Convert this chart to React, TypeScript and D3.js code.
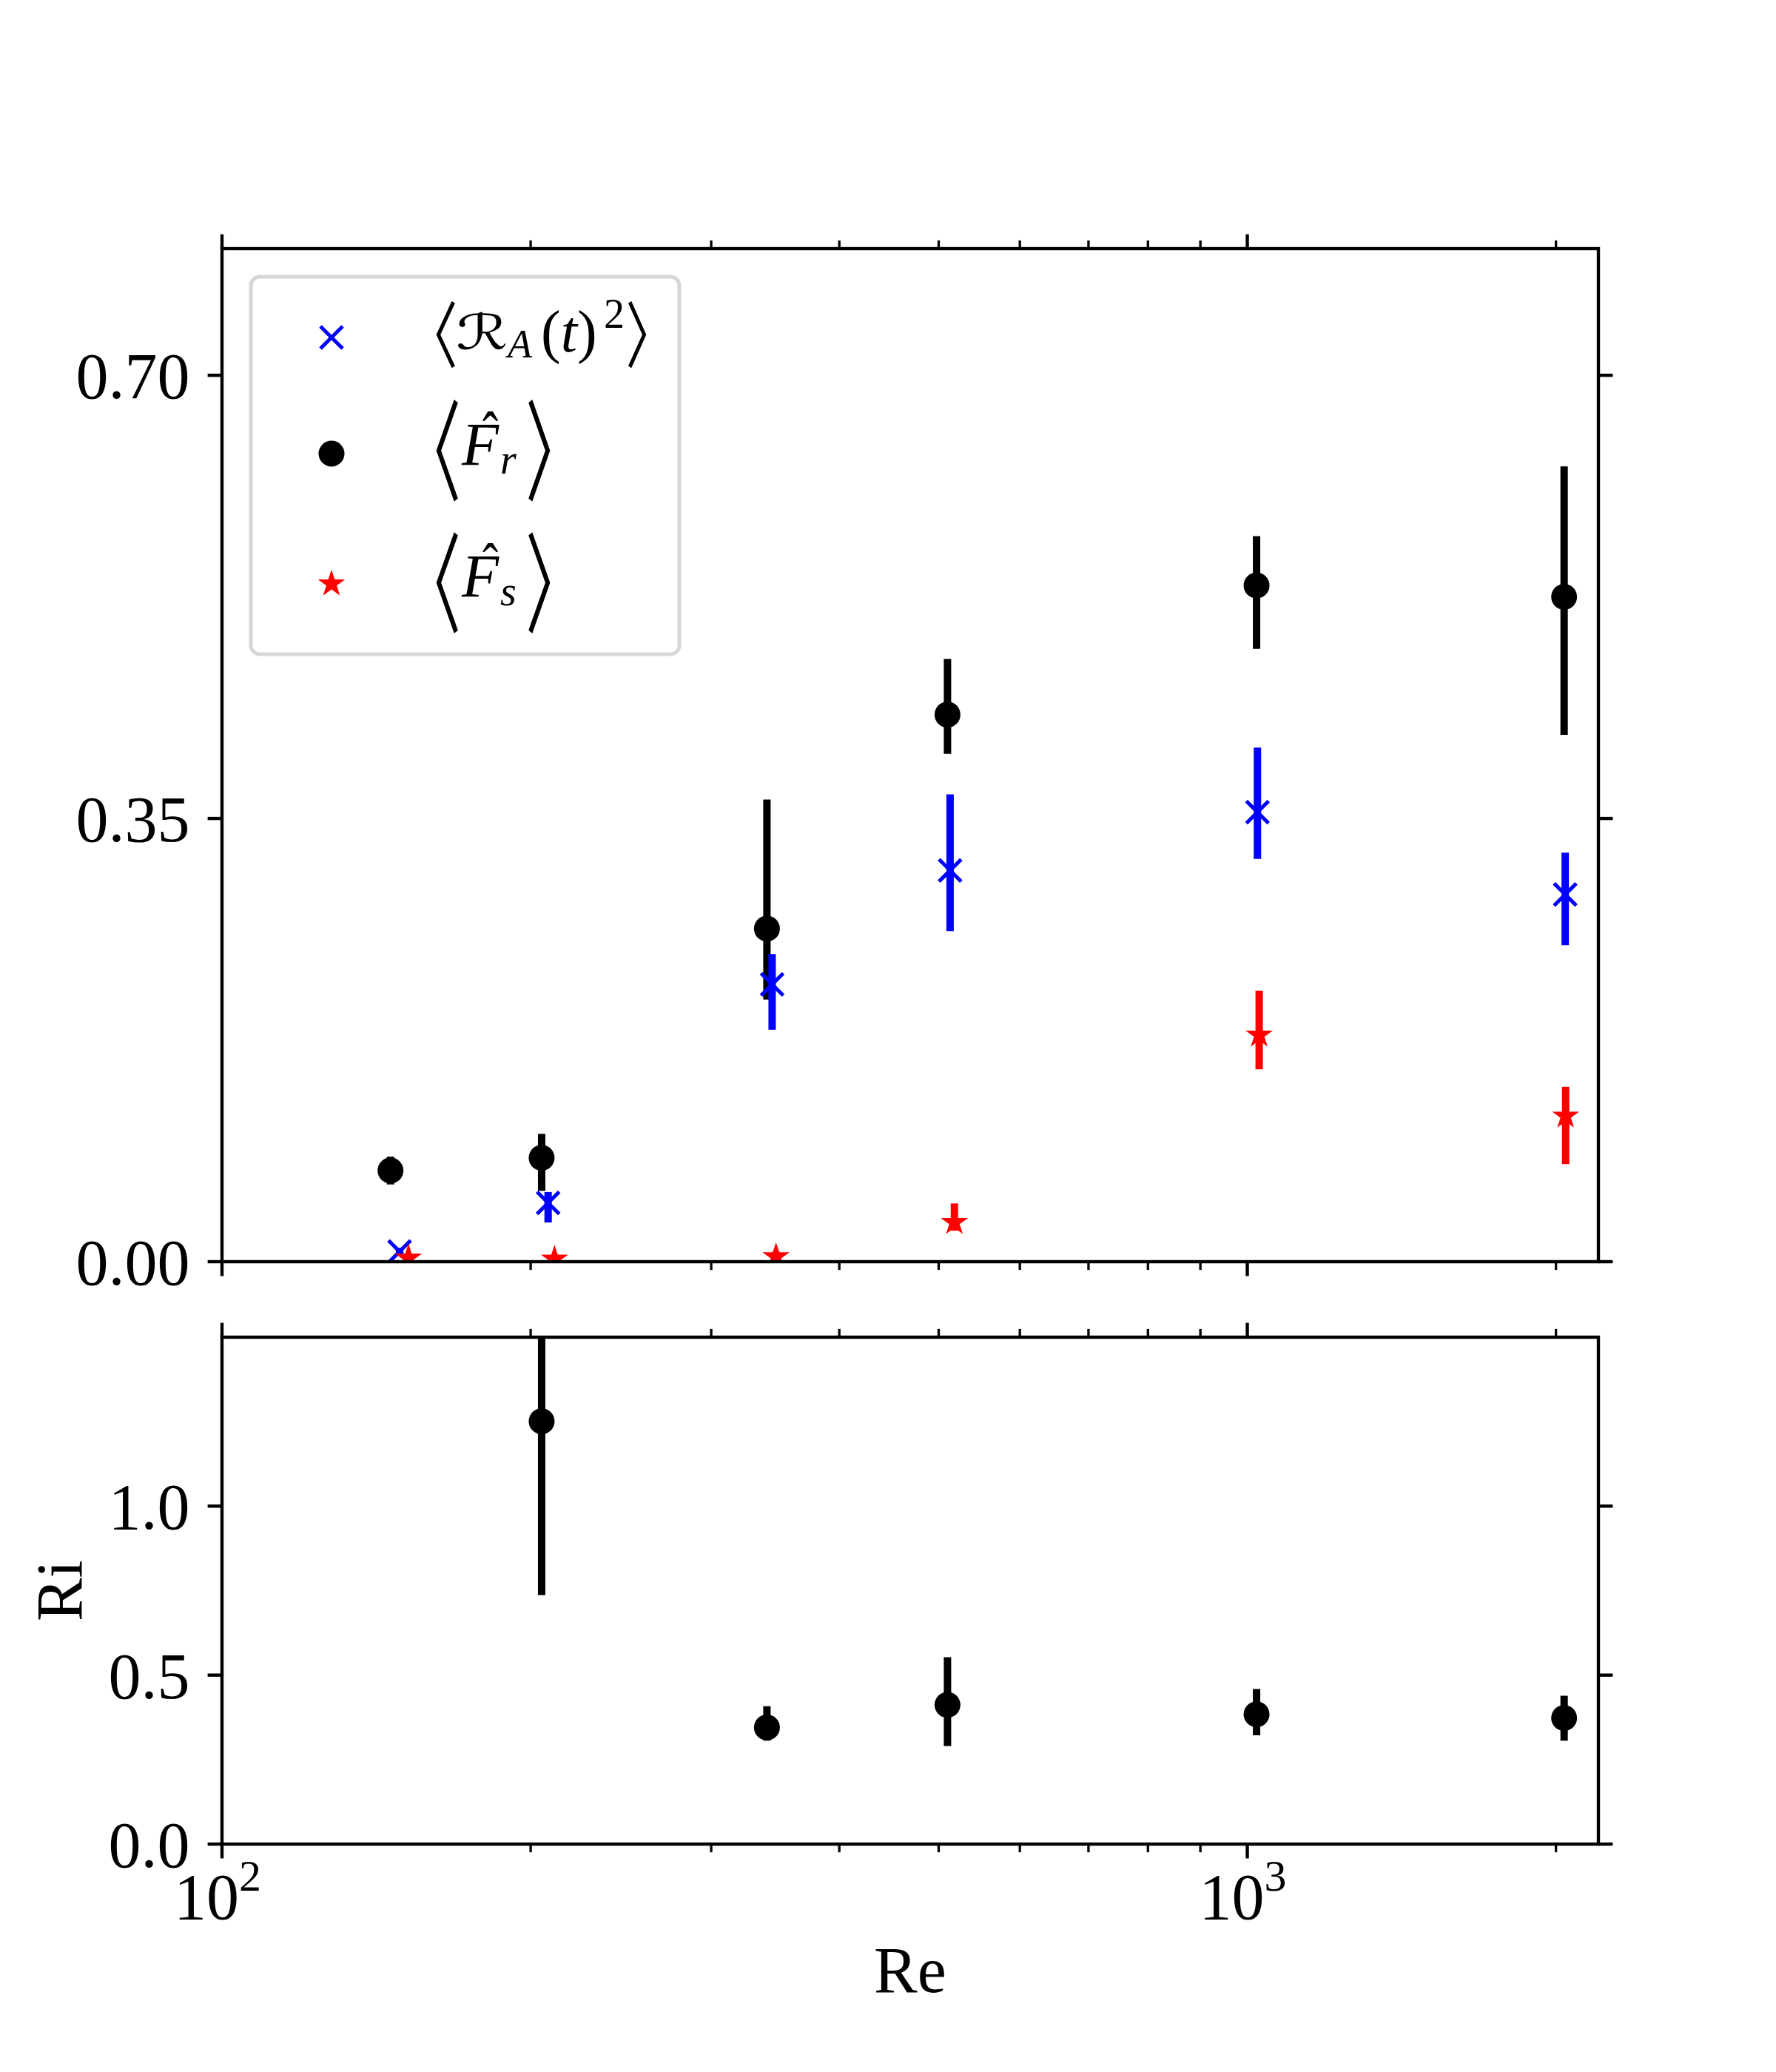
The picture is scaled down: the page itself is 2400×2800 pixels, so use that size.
import * as d3 from 'd3';

// Re positions differ slightly per series (markers are offset in the original)
const reFr = [146, 205, 340, 510, 1021, 2037];
const frMean = [0.072, 0.082, 0.263, 0.432, 0.534, 0.525];
const frLo = [0.061, 0.056, 0.207, 0.401, 0.484, 0.416];
const frHi = [0.083, 0.101, 0.365, 0.476, 0.573, 0.628];

const reRa = [149, 208, 344, 513, 1023, 2042];
const raMean = [0.008, 0.0465, 0.219, 0.309, 0.355, 0.29];
const raLo = [0.005, 0.031, 0.183, 0.261, 0.318, 0.25];
const raHi = [0.011, 0.055, 0.243, 0.369, 0.406, 0.323];

const reFs = [152, 211, 347, 518, 1027, 2044];
const fsMean = [0.003, 0.002, 0.004, 0.031, 0.179, 0.115];
const fsLo = [0.001, 0.001, 0.002, 0.0245, 0.152, 0.077];
const fsHi = [0.005, 0.004, 0.008, 0.046, 0.214, 0.138];

const reRi = [205, 340, 510, 1021, 2037];
const riMean = [1.251, 0.345, 0.412, 0.384, 0.373];
const riLo = [0.737, 0.306, 0.29, 0.322, 0.306];
const riHi = [1.765, 0.408, 0.553, 0.459, 0.439];

const topTicks = [0, 0.35, 0.7];
const topLabels = ['0.00', '0.35', '0.70'];
const botTicks = [0, 0.5, 1.0];
const botLabels = ['0.0', '0.5', '1.0'];
const xMajor = [100, 1000];
const xMajorExp = ['2', '3'];
const xMinor = [200, 300, 400, 500, 600, 700, 800, 900, 2000];

const W = 2400;
const H = 2800;
const L = 300;
const R = 2160;
const T1 = 336;
const B1 = 1705;
const T2 = 1807;
const B2 = 2492;

const SERIF = '"Liberation Serif", "DejaVu Serif", serif';
const LW = 4.4; // 0.8pt at 400dpi
const MAJ = 19.4;
const MIN = 11.1;
const FS = 88;

const x = d3.scaleLog().domain([100, 2200]).range([L, R]);
const yTop = d3.scaleLinear().domain([0, 0.8]).range([B1, T1]);
const yBot = d3.scaleLinear().domain([0, 1.5]).range([B2, T2]);

// ink metrics from canvas so glyphs can be fitted to a box
let ctx: CanvasRenderingContext2D | null = null;
function ink(text: string, font: string) {
  if (!ctx) ctx = document.createElement('canvas').getContext('2d');
  ctx!.font = `100px ${font}`;
  const m = ctx!.measureText(text);
  return {
    l: m.actualBoundingBoxLeft,
    r: m.actualBoundingBoxRight,
    a: m.actualBoundingBoxAscent,
    d: m.actualBoundingBoxDescent,
  };
}

function FitText({ text, x0, y0, w, h, font }: { text: string; x0: number; y0: number; w: number; h: number; font: string }) {
  const m = ink(text, font);
  const sx = w / (m.l + m.r || 1);
  const sy = h / (m.a + m.d || 1);
  return (
    <text
      transform={`translate(${x0 + m.l * sx},${y0 + m.a * sy}) scale(${sx},${sy})`}
      fontSize={100}
      style={{ fontFamily: font }}
    >
      {text}
    </text>
  );
}

function Circle({ cx, cy }: { cx: number; cy: number }) {
  return <circle cx={cx} cy={cy} r={17.5} fill="#000" />;
}

function Cross({ cx, cy }: { cx: number; cy: number }) {
  const r = 15;
  return (
    <g stroke="#0000ff" strokeWidth={5}>
      <line x1={cx - r} y1={cy - r} x2={cx + r} y2={cy + r} />
      <line x1={cx - r} y1={cy + r} x2={cx + r} y2={cy - r} />
    </g>
  );
}

const starPath = d3.symbol(d3.symbolStar, 420)();

function Star({ cx, cy }: { cx: number; cy: number }) {
  return <path d={starPath ?? ''} transform={`translate(${cx},${cy})`} fill="#ff0000" />;
}

function ErrBars({ re, lo, hi, y, color }: { re: number[]; lo: number[]; hi: number[]; y: d3.ScaleLinear<number, number>; color: string }) {
  return (
    <g stroke={color} strokeWidth={10}>
      {re.map((r, i) => (
        <line key={i} x1={x(r)} x2={x(r)} y1={y(lo[i])} y2={y(hi[i])} />
      ))}
    </g>
  );
}

function XTicks({ top, bottom }: { top: number; bottom: number }) {
  return (
    <g stroke="#000">
      {xMajor.map((v) => (
        <g key={v} strokeWidth={LW}>
          <line x1={x(v)} x2={x(v)} y1={bottom} y2={bottom + MAJ} />
          <line x1={x(v)} x2={x(v)} y1={top} y2={top - MAJ} />
        </g>
      ))}
      {xMinor.map((v) => (
        <g key={v} strokeWidth={3.3}>
          <line x1={x(v)} x2={x(v)} y1={bottom} y2={bottom + MIN} />
          <line x1={x(v)} x2={x(v)} y1={top} y2={top - MIN} />
        </g>
      ))}
    </g>
  );
}

function YTicks({ ticks, labels, y }: { ticks: number[]; labels: string[]; y: d3.ScaleLinear<number, number> }) {
  return (
    <g>
      {ticks.map((t, i) => (
        <g key={t}>
          <line x1={L - MAJ} x2={L} y1={y(t)} y2={y(t)} stroke="#000" strokeWidth={LW} />
          <line x1={R} x2={R + MAJ} y1={y(t)} y2={y(t)} stroke="#000" strokeWidth={LW} />
          <text x={L - MAJ - 24} y={y(t) + 31} textAnchor="end" fontSize={FS} style={{ fontFamily: SERIF }}>
            {labels[i]}
          </text>
        </g>
      ))}
    </g>
  );
}

const BR = '"Noto Sans CJK JP", "DejaVu Sans", sans-serif';
const HAT = '"Liberation Serif", serif';
const LB = '\u3008';
const RB = '\u3009';

export default function App() {
  return (
    <svg width={W} height={H} style={{ position: 'absolute', left: 0, top: 0, background: '#fff' }}>
      <rect width={W} height={H} fill="#fff" />
      <defs>
        <clipPath id="clipTop">
          <rect x={L} y={T1} width={R - L} height={B1 - T1} />
        </clipPath>
        <clipPath id="clipBot">
          <rect x={L} y={T2} width={R - L} height={B2 - T2} />
        </clipPath>
      </defs>

      {/* top panel data */}
      <g clipPath="url(#clipTop)">
        <ErrBars re={reFr} lo={frLo} hi={frHi} y={yTop} color="#000" />
        {reFr.map((r, i) => (
          <Circle key={i} cx={x(r)} cy={yTop(frMean[i])} />
        ))}
        <ErrBars re={reRa} lo={raLo} hi={raHi} y={yTop} color="#0000ff" />
        {reRa.map((r, i) => (
          <Cross key={i} cx={x(r)} cy={yTop(raMean[i])} />
        ))}
        <ErrBars re={reFs} lo={fsLo} hi={fsHi} y={yTop} color="#ff0000" />
        {reFs.map((r, i) => (
          <Star key={i} cx={x(r)} cy={yTop(fsMean[i])} />
        ))}
      </g>

      {/* bottom panel data */}
      <g clipPath="url(#clipBot)">
        <ErrBars re={reRi} lo={riLo} hi={riHi} y={yBot} color="#000" />
        {reRi.map((r, i) => (
          <Circle key={i} cx={x(r)} cy={yBot(riMean[i])} />
        ))}
      </g>

      {/* axes frames and ticks */}
      <rect x={L} y={T1} width={R - L} height={B1 - T1} fill="none" stroke="#000" strokeWidth={LW} />
      <rect x={L} y={T2} width={R - L} height={B2 - T2} fill="none" stroke="#000" strokeWidth={LW} />
      <XTicks top={T1} bottom={B1} />
      <XTicks top={T2} bottom={B2} />
      <YTicks ticks={topTicks} labels={topLabels} y={yTop} />
      <YTicks ticks={botTicks} labels={botLabels} y={yBot} />

      {/* x tick labels */}
      {xMajor.map((v, i) => (
        <text key={v} x={x(v) - 6} y={2593} textAnchor="middle" fontSize={FS} style={{ fontFamily: SERIF }}>
          10
          <tspan fontSize={60} dy={-38}>
            {xMajorExp[i]}
          </tspan>
        </text>
      ))}

      {/* axis labels */}
      <text x={(L + R) / 2} y={2692} textAnchor="middle" fontSize={FS} style={{ fontFamily: SERIF }}>
        Re
      </text>
      <text
        transform={`translate(110,${(T2 + B2) / 2}) rotate(-90)`}
        textAnchor="middle"
        fontSize={FS}
        style={{ fontFamily: SERIF }}
      >
        Ri
      </text>

      {/* legend */}
      <rect x={339} y={374} width={579} height={510} rx={12} fill="#fff" fillOpacity={0.8} stroke="#d6d6d6" strokeWidth={5} />
      <Cross cx={448} cy={456} />
      <Circle cx={448} cy={613} />
      <Star cx={448} cy={789} />

      <g style={{ fontFamily: SERIF }}>
        {/* row 1 */}
        <FitText text={LB} x0={589} y0={407} w={26} h={91} font={BR} />
        <FitText text={'\u211B'} x0={619} y0={421} w={65} h={52} font={'"DejaVu Sans", serif'} />
        <text x={686} y={483} fontSize={54} fontStyle="italic">
          A
        </text>
        <text x={731} y={475} fontSize={80}>
          (<tspan fontStyle="italic">t</tspan>)
        </text>
        <text x={816} y={443} fontSize={56}>
          2
        </text>
        <FitText text={RB} x0={849} y0={407} w={25} h={91} font={BR} />

        {/* row 2 */}
        <FitText text={LB} x0={589} y0={539} w={30} h={139} font={BR} />
        <FitText text={'\u02C6'} x0={652} y0={556} w={21} h={13} font={HAT} />
        <text x={624} y={628} fontSize={82} fontStyle="italic">
          F
        </text>
        <text x={676} y={640} fontSize={56} fontStyle="italic">
          r
        </text>
        <FitText text={RB} x0={714} y0={539} w={30} h={139} font={BR} />

        {/* row 3 */}
        <FitText text={LB} x0={589} y0={718} w={30} h={138} font={BR} />
        <FitText text={'\u02C6'} x0={652} y0={734} w={21} h={12} font={HAT} />
        <text x={624} y={806} fontSize={82} fontStyle="italic">
          F
        </text>
        <text x={676} y={818} fontSize={56} fontStyle="italic">
          s
        </text>
        <FitText text={RB} x0={714} y0={718} w={30} h={138} font={BR} />
      </g>
    </svg>
  );
}
